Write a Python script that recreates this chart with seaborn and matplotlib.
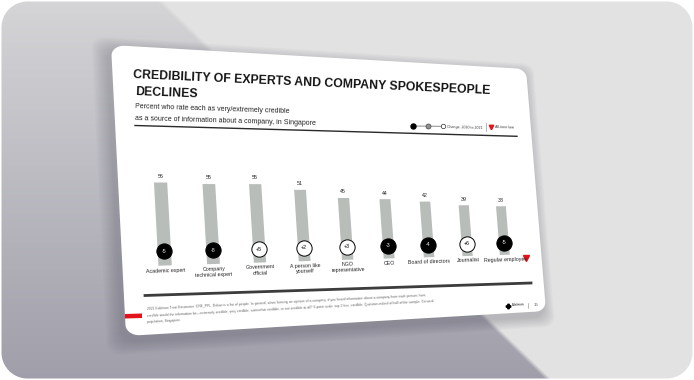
import numpy as np
import pandas as pd
import matplotlib
matplotlib.use("Agg")
import matplotlib.pyplot as plt
import seaborn as sns
from matplotlib import font_manager
from matplotlib.transforms import Transform, BboxTransformFrom, Affine2D
from matplotlib.path import Path
from matplotlib.patches import PathPatch, Polygon
from matplotlib.lines import Line2D

# ---------------- data ----------------
categories = ["Academic expert", "Company technical expert", "Government official",
              "A person like yourself", "NGO representative", "CEO",
              "Board of directors", "Journalist", "Regular employee"]
category_labels = ["Academic expert", "Company\ntechnical expert", "Government\nofficial",
                   "A person like\nyourself", "NGO\nrepresentative", "CEO",
                   "Board of directors", "Journalist", "Regular employee"]
values_2021 = [56, 55, 55, 51, 45, 44, 42, 39, 38]
change_2020_2021 = [-5, -8, 5, 2, 3, -3, -4, 6, -5]
all_time_low = [False, False, False, False, False, False, False, False, True]

title_lines = ["CREDIBILITY OF EXPERTS AND COMPANY SPOKESPEOPLE", "DECLINES"]
subtitle_lines = ["Percent who rate each as very/extremely credible",
                  "as a source of information about a company, in Singapore"]
legend_change = "Change, 2020 to 2021"
legend_low = "All-time low"
footer_lines = [
    "2021 Edelman Trust Barometer. CRE_PPL. Below is a list of people. In general, when forming an opinion of a company, if you heard information about a company from each person, how",
    "credible would the information be\u2014extremely credible, very credible, somewhat credible, or not credible at all? 9-point scale; top 2 box, credible. Question asked of half of the sample. General",
    "population, Singapore."]
page_number = "15"

# ---------------- fonts ----------------
names = {f.name for f in font_manager.fontManager.ttflist}
narrow = "Liberation Sans Narrow" in names
fam = (["Liberation Sans Narrow"] if narrow else []) + ["Liberation Sans", "DejaVu Sans"]
plt.rcParams["font.family"] = fam
k = 1.0 if narrow else 0.84

W, H = 694, 380
fig = plt.figure(figsize=(W / 100, H / 100), dpi=100)


# ---------------- perspective transform (flat slide -> screen) ----------------
class Homography(Transform):
    input_dims = 2
    output_dims = 2
    is_separable = False
    has_inverse = True

    def __init__(self, M):
        super().__init__()
        self.M = np.asarray(M, float)

    def transform_non_affine(self, values):
        v = np.asarray(values, float)
        one = v.ndim == 1
        v = v.reshape(-1, 2)
        p = np.column_stack([v, np.ones(len(v))]) @ self.M.T
        out = p[:, :2] / p[:, 2:3]
        return out.reshape(-1) if one else out

    def transform_path_non_affine(self, path):
        return Path(self.transform_non_affine(path.vertices), path.codes)

    def inverted(self):
        return Homography(np.linalg.inv(self.M))


src = np.array([[0, 1], [1, 1], [1, 0], [0, 0]], float)
corners_img = np.array([[111, 45], [526, 69], [546, 311], [126, 336]], float)
dst = np.column_stack([corners_img[:, 0], H - corners_img[:, 1]])
A, b = [], []
for (u, v), (x, y) in zip(src, dst):
    A.append([u, v, 1, 0, 0, 0, -u * x, -v * x]); b.append(x)
    A.append([0, 0, 0, u, v, 1, -u * y, -v * y]); b.append(y)
h = np.linalg.solve(np.array(A), np.array(b))
HT = Homography(np.append(h, 1).reshape(3, 3))
HTinv = HT.inverted()


def flat(x, y):
    return HTinv.transform_non_affine(np.array([x, H - y], float))


def stext(x, y, s, **kw):
    u, v = flat(x, y)
    kw.setdefault("rotation_mode", "anchor")
    return fig.text(u, v, s, transform=HT, transform_rotates_text=True, **kw)


def sline(x0, y0, x1, y1, **kw):
    (u0, v0), (u1, v1) = flat(x0, y0), flat(x1, y1)
    fig.add_artist(Line2D([u0, u1], [v0, v1], transform=HT, **kw))


def smark(x, y, **kw):
    u, v = flat(x, y)
    fig.add_artist(Line2D([u], [v], transform=HT, ls="none", **kw))


def rounded(x0, y0, x1, y1, rx, ry, n=14):
    pts = []
    for (cx, cy, a0) in [(x1 - rx, y1 - ry, 0), (x0 + rx, y1 - ry, 90),
                         (x0 + rx, y0 + ry, 180), (x1 - rx, y0 + ry, 270)]:
        t = np.deg2rad(np.linspace(a0, a0 + 90, n))
        pts += list(zip(cx + rx * np.cos(t), cy + ry * np.sin(t)))
    pts.append(pts[0])
    return Path(np.array(pts))


# ---------------- background ----------------
bg = fig.add_axes([0, 0, 1, 1])
yy, xx = np.mgrid[0:H, 0:W].astype(float) + 0.5
g = (yy / H)[..., None]
light = np.array([0.888, 0.888, 0.888])
dtop = np.array([0.835, 0.835, 0.845])
dbot = np.array([0.625, 0.62, 0.665])
dark = dtop * (1 - g) + dbot * g
d = yy - 0.974 * (xx - 159)
w = np.clip(d / 6 + 0.5, 0, 1)[..., None]
img = light * (1 - w) + dark * w
r = 26
cx = np.clip(xx, 1.5 + r, W - 1.5 - r)
cy = np.clip(yy, 1.5 + r, H - 1.5 - r)
inside = np.clip(r - np.hypot(xx - cx, yy - cy) + 0.5, 0, 1)[..., None]
img = img * inside + (1 - inside)
bg.imshow(img, extent=(0, W, H, 0), interpolation="nearest", aspect="auto")
bg.set_xlim(0, W); bg.set_ylim(H, 0)
bg.axis("off")
bg.set_zorder(-10)

# slide shadow + slide
for i in range(8):
    e = 0.004 * (i + 1)
    sh = PathPatch(rounded(-e, -e * 1.4, 1 + e, 1 + e * 1.4, 0.03, 0.04),
                   transform=HT + Affine2D().translate(-3, -5),
                   fc=(0.22, 0.22, 0.28), ec="none", alpha=0.03, zorder=0.5)
    fig.add_artist(sh)
fig.add_artist(PathPatch(rounded(0, 0, 1, 1, 0.028, 0.038), transform=HT,
                         fc="white", ec="none", zorder=1))

# ---------------- texts on slide ----------------
stext(133, 78.5, title_lines[0], fontsize=10.5 * k, fontweight="bold", color="#151515",
      ha="left", va="baseline")
stext(135, 95.5, title_lines[1], fontsize=10.5 * k, fontweight="bold", color="#151515",
      ha="left", va="baseline")
stext(135, 108.5, subtitle_lines[0], fontsize=6.0 * k, color="#222222", ha="left", va="baseline")
stext(135, 120.5, subtitle_lines[1], fontsize=6.0 * k, color="#222222", ha="left", va="baseline")
sline(135, 125.5, 517, 136.3, color="#2a2a2a", lw=1.0, zorder=2)

# legend
sline(413, 126, 443, 126.3, color="#777777", lw=0.6, zorder=2)
smark(413, 126, marker="o", ms=3.6, mfc="black", mec="black", zorder=3)
smark(428.5, 126.2, marker="o", ms=3.6, mfc="#8e938f", mec="#444444", mew=0.5, zorder=3)
smark(443, 126.3, marker="o", ms=3.2, mfc="white", mec="#333333", mew=0.5, zorder=3)
stext(447, 126.6, legend_change, fontsize=2.6, color="#333333", ha="left", va="center")
sline(486, 123, 486, 131, color="#999999", lw=0.5, zorder=2)
smark(491.5, 126.8, marker="v", ms=3.2, color="#e3121b", zorder=3)
stext(495, 127.0, legend_low, fontsize=2.6, color="#333333", ha="left", va="center")

# bottom rule + footer
sline(145, 295.5, 531, 283, color="#3c3c3c", lw=2.0, zorder=2)
for j, line in enumerate(footer_lines):
    stext(147, 309.3 + 6.5 * j, line, fontsize=2.45, color="#666666", ha="left", va="center")
fig.add_artist(Polygon([flat(125, 314), flat(142, 313.5), flat(142, 318), flat(125, 318.5)],
                       closed=True, transform=HT, fc="#e3121b", ec="none", zorder=2))
smark(508.5, 305.5, marker="P", ms=3.2, color="black", zorder=3)
stext(511.5, 305.5, "Edelman", fontsize=2.2, fontweight="bold", color="#555555", ha="left", va="center")
sline(528, 302.5, 528, 307.5, color="#888888", lw=0.4, zorder=2)
stext(533.5, 304.8, page_number, fontsize=3.2, color="#555555", ha="left", va="center")

# ---------------- bars (seaborn) ----------------
uA, vA = flat(165, 263)
uB, vB = flat(505, 257)
_, vT = flat(165, 180)
step = (uB - uA) / 8
v0 = (vA + vB) / 2
unit = (vT - vA) / 56.0
ax = fig.add_axes([uA - 0.5 * step, v0, 9 * step, 100 * unit])
ax.set_zorder(5)
df = pd.DataFrame({"category": categories, "value": values_2021})
sns.barplot(data=df, x="category", y="value", color="#b9bdb9", saturation=1,
            width=0.27, errorbar=None, ax=ax)
ax.set_xlim(-0.5, 8.5)
ax.set_ylim(0, 100)
ax.set_autoscale_on(False)
ax.axis("off")

T_ax = ax.transData + BboxTransformFrom(fig.bbox) + HT
for p in ax.patches:
    p.set_transform(T_ax)
    p.set_clip_on(False)

for i, (val, ch, low, lab) in enumerate(zip(values_2021, change_2020_2021, all_time_low, category_labels)):
    fig.text(i, val + 2.6, str(val), transform=T_ax, transform_rotates_text=True,
             rotation_mode="anchor", ha="center", va="bottom", fontsize=4.2 * k + 0.3,
             color="#222222", zorder=8)
    neg = ch < 0
    fig.add_artist(Line2D([i], [9.5], transform=T_ax, ls="none", marker="o", ms=11,
                          mfc="black" if neg else "white", mec="black", mew=0.7, zorder=7))
    fig.text(i, 9.5, f"{ch:+d}", transform=T_ax, transform_rotates_text=True,
             rotation_mode="anchor", ha="center", va="center", fontsize=3.8,
             color="white" if neg else "black", zorder=8)
    fig.text(i, -1.6, lab, transform=T_ax, transform_rotates_text=True,
             rotation_mode="anchor", ha="center", va="top", fontsize=4.2 * k + 0.3,
             linespacing=1.2, color="#222222", zorder=8)
    if low:
        fig.add_artist(Line2D([i + 0.57], [-2.9], transform=T_ax, ls="none", marker="v",
                              ms=4.2, color="#e3121b", zorder=8))

fig.savefig("out.png", dpi=100)
